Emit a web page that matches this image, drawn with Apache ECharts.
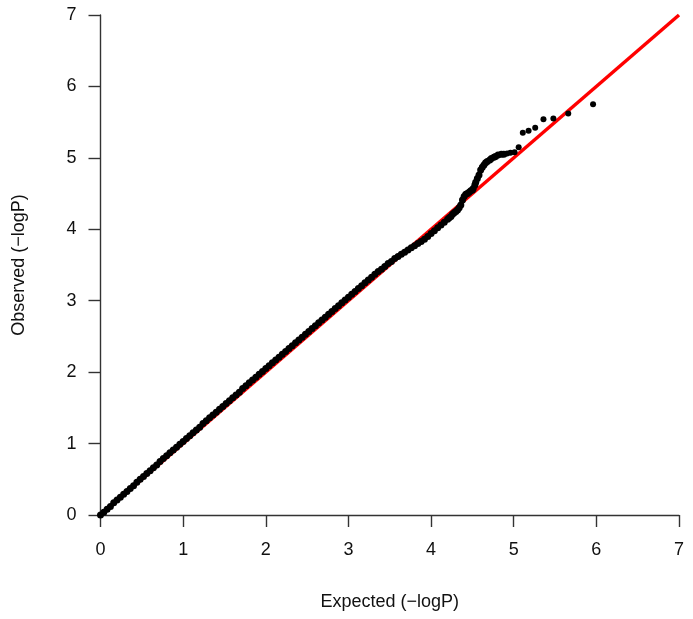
<!DOCTYPE html>
<html>
<head>
<meta charset="utf-8">
<script src="https://cdn.jsdelivr.net/npm/echarts@6/dist/echarts.min.js"></script>
<style>html,body{margin:0;padding:0;background:#fff;}#c{width:693px;height:619px;}</style>
</head>
<body>
<div id="c"></div>
<script>
// Expected (-logP) values of plotted SNPs (dense part, then top-ranked ones)
const expected = [
0.00,0.04,0.08,0.12,0.16,0.20,0.24,0.28,0.32,0.36,0.40,0.44,0.48,0.52,0.56,0.60,0.64,0.68,0.72,0.76,
0.80,0.84,0.88,0.92,0.96,1.00,1.04,1.08,1.12,1.16,1.20,1.24,1.28,1.32,1.36,1.40,1.44,1.48,1.52,1.56,
1.60,1.64,1.68,1.72,1.76,1.80,1.84,1.88,1.92,1.96,2.00,2.04,2.08,2.12,2.16,2.20,2.24,2.28,2.32,2.36,
2.40,2.44,2.48,2.52,2.56,2.60,2.64,2.68,2.72,2.76,2.80,2.84,2.88,2.92,2.96,3.00,3.04,3.08,3.12,3.16,
3.20,3.24,3.28,3.32,3.36,3.40,3.44,3.48,3.52,3.56,3.60,3.64,3.68,3.72,3.76,3.80,3.84,3.88,3.92,3.96,
4.00,4.04,4.08,4.12,4.16,4.20,4.22,4.24,4.26,4.28,4.30,4.32,4.34,4.36,4.38,4.40,4.42,4.44,4.46,
4.48,4.50,4.51,4.53,4.54,4.56,4.58,4.60,4.62,4.64,4.66,4.68,4.71,4.73,4.76,4.78,4.81,4.85,4.88,4.92,
4.96,5.01,5.06,5.11,5.18,5.26,5.36,5.48,5.66,5.96
];
// Observed (-logP) values, same order
const observed = [
0.00,0.04,0.08,0.12,0.17,0.21,0.25,0.29,0.33,0.37,0.41,0.46,0.50,0.54,0.58,0.62,0.66,0.70,0.75,0.79,
0.83,0.87,0.91,0.95,0.99,1.03,1.07,1.11,1.15,1.19,1.23,1.28,1.32,1.36,1.40,1.44,1.48,1.52,1.56,1.60,
1.64,1.68,1.72,1.77,1.81,1.85,1.89,1.93,1.97,2.01,2.05,2.09,2.13,2.17,2.21,2.25,2.29,2.33,2.37,2.41,
2.45,2.49,2.53,2.57,2.61,2.65,2.69,2.73,2.77,2.81,2.85,2.89,2.93,2.97,3.01,3.05,3.09,3.13,3.17,3.21,
3.25,3.29,3.33,3.37,3.41,3.44,3.48,3.52,3.55,3.59,3.62,3.65,3.68,3.71,3.74,3.77,3.80,3.83,3.86,3.90,
3.94,3.98,4.02,4.06,4.10,4.14,4.16,4.18,4.21,4.23,4.25,4.27,4.30,4.34,4.41,4.46,4.49,4.50,4.52,
4.54,4.55,4.57,4.62,4.66,4.71,4.76,4.83,4.87,4.90,4.93,4.95,4.97,4.99,5.01,5.02,5.04,5.05,5.05,5.06,
5.07,5.08,5.15,5.35,5.38,5.42,5.54,5.55,5.62,5.75
];
// Reference line y = x
const refX = [0, 7];
const refY = [0, 7];
// Axis ticks
const tickValues = [0, 1, 2, 3, 4, 5, 6, 7];
const xTitle = 'Expected (\u2212logP)';
const yTitle = 'Observed (\u2212logP)';

const points = expected.map((e, i) => [e, observed[i]]);
const lineData = refX.map((x, i) => [x, refY[i]]);

const chart = echarts.init(document.getElementById('c'), null, {renderer: 'canvas'});
const axisCommon = {
  type: 'value',
  min: tickValues[0],
  max: tickValues[tickValues.length - 1],
  interval: 1,
  splitLine: {show: false},
  axisLine: {show: true, lineStyle: {color: '#333333', width: 1.4}},
  axisTick: {show: true, inside: false, length: 12, lineStyle: {color: '#333333', width: 1.4}},
  axisLabel: {color: '#111111', fontSize: 18, fontFamily: 'Liberation Sans, Arial, sans-serif'},
  nameLocation: 'middle',
  nameTextStyle: {color: '#111111', fontSize: 18, fontFamily: 'Liberation Sans, Arial, sans-serif'}
};
chart.setOption({
  animation: false,
  backgroundColor: '#ffffff',
  grid: {left: 100.5, right: 14, top: 15, bottom: 104, containLabel: false},
  xAxis: Object.assign({}, axisCommon, {
    name: xTitle, nameGap: 78,
    axisLabel: Object.assign({}, axisCommon.axisLabel, {margin: 26})
  }),
  yAxis: Object.assign({}, axisCommon, {
    name: yTitle, nameGap: 72, nameRotate: 90,
    axisLabel: Object.assign({}, axisCommon.axisLabel, {margin: 24})
  }),
  series: [
    {
      type: 'line', data: lineData, symbol: 'none', z: 2,
      lineStyle: {color: '#ff0000', width: 3.5}
    },
    {
      type: 'scatter', data: points, symbol: 'circle', z: 3,
      symbolSize: function (v) { return v[0] > 4.9 ? 6 : 7; },
      itemStyle: {color: '#000000', opacity: 1}
    }
  ]
});
</script>
</body>
</html>
